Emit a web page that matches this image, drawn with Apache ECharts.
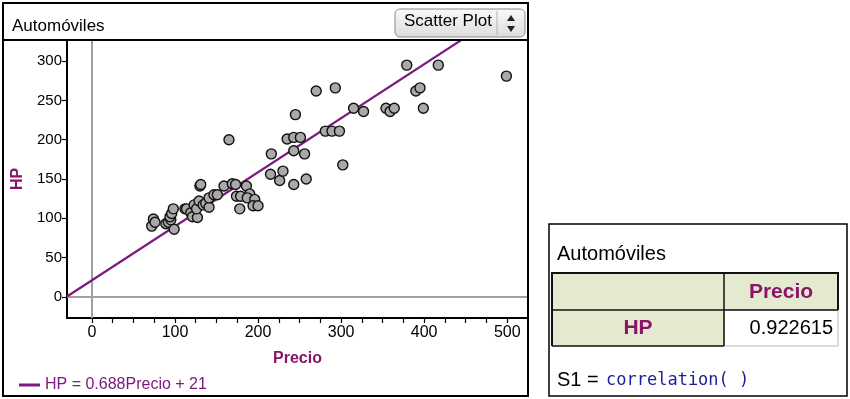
<!DOCTYPE html>
<html>
<head>
<meta charset="utf-8">
<script src="https://cdn.jsdelivr.net/npm/echarts@6/dist/echarts.min.js"></script>
<style>
  html, body { margin: 0; padding: 0; background: #fff; }
  #chart { width: 850px; height: 399px; }
</style>
</head>
<body>
<div id="chart"></div>
<script>
// Automóviles: price vs horsepower
var precio = [72, 74, 76, 89, 92, 95, 94, 96, 98, 99, 112, 114, 119, 121, 127, 123, 126, 129, 130, 131,
    134, 137, 141, 141, 147, 151, 159, 165, 169, 173, 174, 179, 178, 186, 190, 187, 196, 194, 200, 215,
    216, 226, 230, 235, 243, 251, 243, 243, 245, 256, 258, 270, 281, 289, 298, 293, 302, 315, 327, 354,
    359, 364, 379, 390, 395, 399, 417, 499];
var hp = [90, 99, 95, 93, 95, 98, 102, 106, 112, 86, 112, 112, 107, 102, 101, 117, 112, 122, 141, 143,
    117, 119, 114, 126, 130, 130, 141, 200, 144, 143, 128, 128, 112, 141, 131, 126, 124, 116, 116, 156,
    182, 148, 160, 201, 203, 203, 186, 143, 232, 182, 150, 262, 211, 211, 211, 266, 168, 240, 236, 240,
    236, 240, 295, 262, 266, 240, 295, 281];

var xTicks = [0, 25, 50, 75, 100, 125, 150, 175, 200, 225, 250, 275, 300, 325, 350, 375, 400, 425, 450, 475, 500];
var xLabels = [0, 100, 200, 300, 400, 500];
var yLabels = [0, 50, 100, 150, 200, 250, 300];

// least squares line shown in the legend
var slope = 0.688;
var intercept = 21;
var fitName = 'HP = 0.688Precio + 21';
var correlation = '0.922615';

var xMin = -30, xMax = 525, yMin = -27, yMax = 327;

var points = precio.map(function (p, i) { return [p, hp[i]]; });
var fitLine = [[xMin, intercept + slope * xMin], [xMax, intercept + slope * xMax]];

var maroon = '#8a1465';
var purple = '#7d1a80';
var font = 'Liberation Sans, Arial, sans-serif';

var chart = echarts.init(document.getElementById('chart'), null, { renderer: 'canvas' });

chart.setOption({
    animation: false,
    backgroundColor: '#fff',
    textStyle: { fontFamily: font },
    grid: { left: 67, right: 322, top: 40, bottom: 81, containLabel: false },
    legend: {
        data: [{ name: fitName, icon: 'rect' }],
        left: 14, top: 372,
        itemWidth: 21, itemHeight: 3,
        itemGap: 6,
        textStyle: { color: purple, fontSize: 16, fontFamily: font }
    },
    xAxis: {
        type: 'value', min: xMin, max: xMax,
        name: 'Precio', nameLocation: 'middle', nameGap: 33,
        nameTextStyle: { color: maroon, fontSize: 16, fontWeight: 'bold', fontFamily: font },
        axisLine: { onZero: false, lineStyle: { color: '#000', width: 2 } },
        axisTick: { customValues: xTicks, length: 5, lineStyle: { color: '#000', width: 1.2 } },
        axisLabel: { customValues: xLabels, color: '#000', fontSize: 16, margin: 7, fontFamily: font },
        splitLine: { show: false }
    },
    yAxis: {
        type: 'value', min: yMin, max: yMax,
        name: 'HP', nameLocation: 'middle', nameGap: 41, nameRotate: 90,
        nameTextStyle: { color: maroon, fontSize: 16, fontWeight: 'bold', fontFamily: font },
        axisLine: { onZero: false, lineStyle: { color: '#000', width: 2 } },
        axisTick: { customValues: yLabels, length: 5, lineStyle: { color: '#000', width: 1.2 } },
        axisLabel: { customValues: yLabels, color: '#000', fontSize: 15, margin: 5, fontFamily: font },
        splitLine: { show: false }
    },
    series: [
        {
            name: 'Automóviles',
            type: 'scatter',
            data: points,
            symbolSize: 10,
            itemStyle: { color: '#a9a9a9', borderColor: '#111', borderWidth: 1.4, opacity: 1 },
            markLine: {
                silent: true,
                symbol: 'none',
                label: { show: false },
                lineStyle: { color: '#a0a0a0', width: 2, type: 'solid' },
                data: [{ xAxis: 0 }, { yAxis: 0 }],
                z: 1
            },
            z: 3
        },
        {
            name: fitName,
            type: 'line',
            data: fitLine,
            clip: true,
            showSymbol: false,
            symbol: 'none',
            lineStyle: { color: purple, width: 2.2 },
            itemStyle: { color: purple },
            z: 2
        }
    ],
    graphic: [
        // left panel frame
        { type: 'rect', shape: { x: 3, y: 3, width: 525, height: 393 }, style: { fill: 'none', stroke: '#000', lineWidth: 2 }, z: 10 },
        { type: 'line', shape: { x1: 3, y1: 40, x2: 528, y2: 40 }, style: { stroke: '#000', lineWidth: 2 }, z: 10 },
        { type: 'text', left: 12, top: 18, style: { text: 'Automóviles', font: '17px ' + font, fill: '#000' }, z: 10 },
        // scatter plot selector
        { type: 'rect', shape: { x: 395, y: 9, width: 130, height: 28, r: 5 },
          style: { fill: new echarts.graphic.LinearGradient(0, 0, 0, 1, [{ offset: 0, color: '#fafafa' }, { offset: 1, color: '#dcdcdc' }]), stroke: '#8a8a8a', lineWidth: 1 }, z: 10 },
        { type: 'line', shape: { x1: 497, y1: 11, x2: 497, y2: 35 }, style: { stroke: '#b5b5b5', lineWidth: 1 }, z: 11 },
        { type: 'text', left: 404, top: 13, style: { text: 'Scatter Plot', font: '17px ' + font, fill: '#000' }, z: 11 },
        { type: 'polygon', shape: { points: [[507, 21], [515, 21], [511, 15]] }, style: { fill: '#222' }, z: 11 },
        { type: 'polygon', shape: { points: [[507, 26], [515, 26], [511, 32]] }, style: { fill: '#222' }, z: 11 },
        // right plot border
        { type: 'line', shape: { x1: 528, y1: 40, x2: 528, y2: 318 }, style: { stroke: '#000', lineWidth: 2 }, z: 10 },

        // correlation table panel
        { type: 'rect', shape: { x: 549, y: 224, width: 298, height: 172 }, style: { fill: '#fff', stroke: '#000', lineWidth: 1.5 }, z: 10 },
        { type: 'text', left: 557, top: 244, style: { text: 'Automóviles', font: '20px ' + font, fill: '#000' }, z: 11 },
        { type: 'rect', shape: { x: 552, y: 273, width: 286, height: 37 }, style: { fill: '#e4ead0' }, z: 11 },
        { type: 'rect', shape: { x: 552, y: 310, width: 172, height: 36 }, style: { fill: '#e4ead0' }, z: 11 },
        { type: 'rect', shape: { x: 724, y: 310, width: 114, height: 36 }, style: { fill: '#fff', stroke: '#bbb', lineWidth: 1 }, z: 11 },
        { type: 'polyline', shape: { points: [[552, 346], [552, 273], [838, 273], [838, 310]] }, style: { stroke: '#111', lineWidth: 2, fill: 'none' }, z: 12 },
        { type: 'line', shape: { x1: 552, y1: 310, x2: 838, y2: 310 }, style: { stroke: '#111', lineWidth: 1.5 }, z: 12 },
        { type: 'line', shape: { x1: 724, y1: 273, x2: 724, y2: 346 }, style: { stroke: '#111', lineWidth: 1.5 }, z: 12 },
        { type: 'line', shape: { x1: 552, y1: 346, x2: 724, y2: 346 }, style: { stroke: '#111', lineWidth: 1.5 }, z: 12 },
        { type: 'text', x: 781, y: 292, style: { text: 'Precio', font: 'bold 21px ' + font, fill: maroon, align: 'center', verticalAlign: 'middle' }, z: 13 },
        { type: 'text', x: 638, y: 328, style: { text: 'HP', font: 'bold 21px ' + font, fill: maroon, align: 'center', verticalAlign: 'middle' }, z: 13 },
        { type: 'text', x: 833, y: 328, style: { text: correlation, font: '20px ' + font, fill: '#000', align: 'right', verticalAlign: 'middle' }, z: 13 },
        { type: 'text', x: 557, y: 380, style: { text: 'S1 =', font: '20px ' + font, fill: '#000', verticalAlign: 'middle' }, z: 13 },
        { type: 'text', x: 606, y: 381, style: { text: 'correlation( )', font: '17px DejaVu Sans Mono, monospace', fill: '#1c1c9c', verticalAlign: 'middle' }, z: 13 }
    ]
});
</script>
</body>
</html>
